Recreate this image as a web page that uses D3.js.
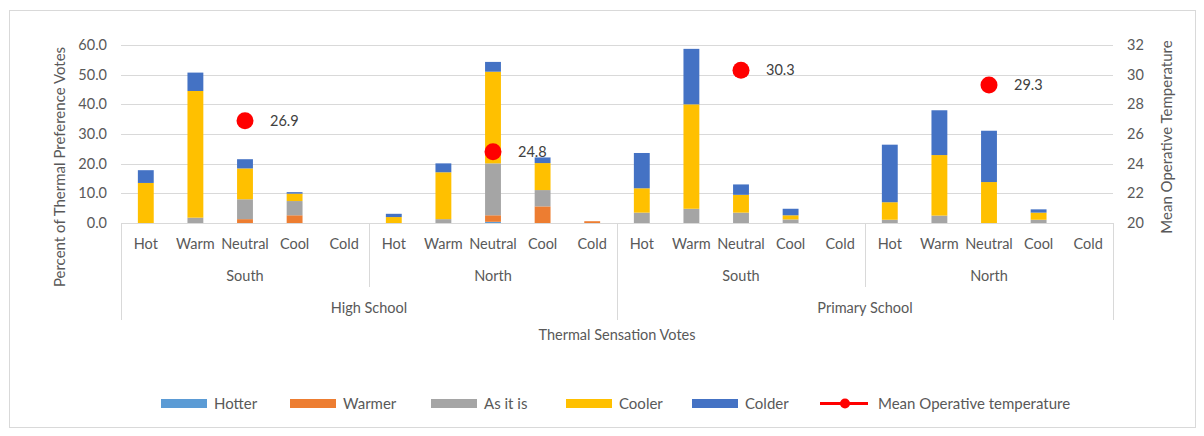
<!DOCTYPE html>
<html>
<head>
<meta charset="utf-8">
<script src="https://cdn.jsdelivr.net/npm/d3@7"></script>
<style>
  body { margin:0; background:#fff; }
  svg text { font-family: Lato, "Liberation Sans", sans-serif; fill:#595959; }
</style>
</head>
<body>
<svg id="chart" width="1204" height="436"></svg>
<script>
// categories
const sensations = ['Hot','Warm','Neutral','Cool','Cold']
const regions = ['South','North','South','North']
const schools = ['High School','Primary School']
const seriesNames = ['Hotter','Warmer','As it is','Cooler','Colder']
const seriesColors = ['#5B9BD5','#ED7D31','#A5A5A5','#FFC000','#4472C4']

// series values, 20 categories (school > region > sensation)
const hotter = [0,0,0,0,0,   0,0,0.4,0,0,     0,0,0,0,0,     0,0,0,0,0]
const warmer = [0,0,1.3,2.6,0, 0,0,2.2,5.6,0.6, 0,0,0,0,0,   0,0,0,0,0]
const asItIs = [0,1.8,6.7,4.8,0, 0,1.3,17.5,5.5,0, 3.5,4.8,3.5,1.2,0, 1.1,2.5,0,1.1,0]
const cooler = [13.5,42.7,10.4,2.5,0, 2.0,15.8,30.9,9.1,0, 8.2,35.2,6.0,1.4,0, 5.9,20.4,13.8,2.4,0]
const colder = [4.3,6.2,3.1,0.5,0, 1.1,3.0,3.3,1.9,0, 11.9,18.7,3.5,2.2,0, 19.4,15.1,17.3,1.1,0]
const meanTemp = [null,null,26.9,null,null, null,null,24.8,null,null, null,null,30.3,null,null, null,null,29.3,null,null]

const leftTicks = [0,10,20,30,40,50,60]
const rightTicks = [20,22,24,26,28,30,32]

const svg = d3.select('#chart')
const plot = { left:121, right:1113, top:45, bottom:223 }

// chart frame
svg.append('rect')
  .attr('x',9.5).attr('y',10.5).attr('width',1186).attr('height',417)
  .attr('fill','none').attr('stroke','#d9d9d9')

const idx = d3.range(20)
const x = d3.scaleBand().domain(idx).range([plot.left,plot.right])
  .paddingInner(0.68).paddingOuter(0.34)
const y = d3.scaleLinear().domain([0,60]).range([plot.bottom,plot.top])
const y2 = d3.scaleLinear().domain([20,32]).range([plot.bottom,plot.top])

// grid
svg.append('g').selectAll('line').data(leftTicks.slice(1)).join('line')
  .attr('x1',plot.left).attr('x2',plot.right)
  .attr('y1',d=>Math.round(y(d))+0.5).attr('y2',d=>Math.round(y(d))+0.5)
  .attr('stroke','#d9d9d9').attr('stroke-width',1)

// left axis labels
svg.append('g').selectAll('text').data(leftTicks).join('text')
  .attr('x',107).attr('y',d=>y(d)).attr('dy','0.35em')
  .attr('text-anchor','end').style('font-size','14.5px')
  .text(d=>d.toFixed(1))

// right axis labels
svg.append('g').selectAll('text').data(rightTicks).join('text')
  .attr('x',1127).attr('y',d=>y2(d)).attr('dy','0.35em')
  .attr('text-anchor','start').style('font-size','14.5px')
  .text(d=>d)

// stacked bars
const rows = idx.map(i => ({ i, Hotter:hotter[i], Warmer:warmer[i], 'As it is':asItIs[i], Cooler:cooler[i], Colder:colder[i] }))
const stack = d3.stack().keys(seriesNames)(rows)
svg.append('g').selectAll('g').data(stack).join('g')
  .attr('fill',(d,k)=>seriesColors[k])
  .selectAll('rect').data(d=>d).join('rect')
    .attr('x',d=>x(d.data.i))
    .attr('width',x.bandwidth())
    .attr('y',d=>y(d[1]))
    .attr('height',d=>Math.max(0,y(d[0])-y(d[1])))

// category axis
const ax = svg.append('g').attr('stroke','#d9d9d9').attr('stroke-width',1)
ax.append('line').attr('x1',plot.left).attr('x2',plot.right)
  .attr('y1',plot.bottom+0.5).attr('y2',plot.bottom+0.5)
const step = x.step()
;[0,1,2,3,4].forEach(g=>{
  const xx = Math.round(plot.left + g*5*step)+0.5
  const deep = (g%2===0)
  ax.append('line').attr('x1',xx).attr('x2',xx)
    .attr('y1',plot.bottom).attr('y2',deep?320:287)
})

svg.append('g').selectAll('text').data(idx).join('text')
  .attr('x',i=>x(i)+x.bandwidth()/2).attr('y',244).attr('dy','0.35em')
  .attr('text-anchor','middle').style('font-size','14.5px')
  .text(i=>sensations[i%5])

svg.append('g').selectAll('text').data(regions).join('text')
  .attr('x',(d,k)=>plot.left + (k*5+2.5)*step).attr('y',276).attr('dy','0.35em')
  .attr('text-anchor','middle').style('font-size','14.5px')
  .text(d=>d)

svg.append('g').selectAll('text').data(schools).join('text')
  .attr('x',(d,k)=>plot.left + (k*10+5)*step).attr('y',308).attr('dy','0.35em')
  .attr('text-anchor','middle').style('font-size','14.5px')
  .text(d=>d)

svg.append('text').attr('x',(plot.left+plot.right)/2).attr('y',335).attr('dy','0.35em')
  .attr('text-anchor','middle').style('font-size','14.5px')
  .text('Thermal Sensation Votes')

// axis titles
svg.append('text').attr('transform','translate(60,167) rotate(-90)')
  .attr('text-anchor','middle').attr('dy','0.35em').style('font-size','15px')
  .text('Percent of Thermal Preference Votes')
svg.append('text').attr('transform','translate(1167,137) rotate(-90)')
  .attr('text-anchor','middle').attr('dy','0.35em').style('font-size','15px')
  .text('Mean Operative Temperature')

// mean temperature markers
const pts = idx.filter(i=>meanTemp[i]!=null)
svg.append('g').selectAll('circle').data(pts).join('circle')
  .attr('cx',i=>x(i)+x.bandwidth()/2).attr('cy',i=>y2(meanTemp[i]))
  .attr('r',8.5).attr('fill','#FF0000')
svg.append('g').selectAll('text').data(pts).join('text')
  .attr('x',i=>x(i)+x.bandwidth()/2+25).attr('y',i=>y2(meanTemp[i])).attr('dy','0.35em')
  .style('font-size','14.5px').style('fill','#404040')
  .text(i=>meanTemp[i].toFixed(1))

// legend
const legendX = [161,290,431,566,692]
const lg = svg.append('g')
seriesNames.forEach((n,k)=>{
  lg.append('rect').attr('x',legendX[k]).attr('y',399).attr('width',46).attr('height',9)
    .attr('fill',seriesColors[k])
  lg.append('text').attr('x',legendX[k]+53).attr('y',403.5).attr('dy','0.35em')
    .style('font-size','15px').text(n)
})
lg.append('line').attr('x1',820).attr('x2',868).attr('y1',403.5).attr('y2',403.5)
  .attr('stroke','#FF0000').attr('stroke-width',3)
lg.append('circle').attr('cx',845).attr('cy',403.5).attr('r',5).attr('fill','#FF0000')
lg.append('text').attr('x',878).attr('y',403.5).attr('dy','0.35em')
  .style('font-size','15px').text('Mean Operative temperature')
</script>
</body>
</html>
